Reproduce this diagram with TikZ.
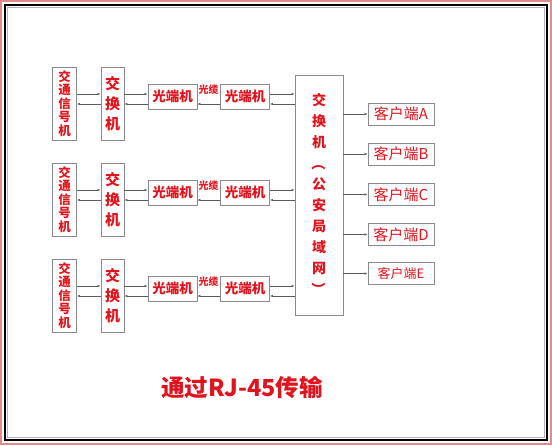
\documentclass[tikz,border=0pt]{standalone}
\usepackage{fontspec}
\usepackage{graphicx}
\newfontfamily\cjk{Noto Sans CJK SC}
\usetikzlibrary{arrows.meta}
\definecolor{txtred}{HTML}{E0141E}
\definecolor{boxgray}{HTML}{8A8A8A}
\definecolor{linegray}{HTML}{5A5A5A}
\definecolor{framepink}{HTML}{E08A8A}
\tikzset{
  box/.style={draw=boxgray, line width=0.8pt, fill=white, inner sep=0pt, text=txtred, font=\cjk\bfseries},
  sigbox/.style={box, minimum width=24pt, minimum height=73pt, align=center, font=\cjk\bfseries\fontsize{12.5}{13.6}\selectfont},
  swbox/.style={box, minimum width=23pt, minimum height=73pt, align=center, font=\cjk\bfseries\fontsize{15}{20}\selectfont},
  optbox/.style={box, minimum width=49pt, minimum height=25pt, font=\cjk\bfseries\fontsize{13.5}{14}\selectfont},
  clibox/.style={box, minimum width=66pt, minimum height=22pt, font=\cjk\fontsize{15}{16}\selectfont},
  conn/.style={draw=linegray, line width=0.7pt, -{Latex[length=3pt,width=2.4pt]}}
}
\begin{document}
\begin{tikzpicture}[x=1pt,y=-1pt]
\useasboundingbox (0,0) rectangle (552,445);
\fill[white] (0,0) rectangle (552,445);
\draw[framepink, line width=2pt] (1,1) rectangle (551,444);
\draw[black, line width=2pt] (5,5) rectangle (547,440);
\draw[black!30, line width=0.8pt] (7.5,7.5) rectangle (544.5,437.5);

% big switch
\node[box, minimum width=48pt, minimum height=240pt, align=center,
      font=\cjk\bfseries\fontsize{14}{21}\selectfont] (big) at (319,195)
  {交\\换\\机\\\rotatebox[origin=c]{-90}{（}\\公\\安\\局\\域\\网\\\rotatebox[origin=c]{-90}{）}};

% rows
\foreach \r/\t in {1/67,2/163,3/259}{
  \node[sigbox] (sig\r) at (64.5,\t+36.5) {交\\通\\信\\号\\机};
  \node[swbox] (sw\r) at (112.5,\t+36.5) {交\\换\\机};
  \node[optbox] (oa\r) at (172.5,\t+29.5) {光端机};
  \node[optbox] (ob\r) at (245,\t+29.5) {光端机};
  \coordinate (up\r) at (0,\t+27);
  \coordinate (lo\r) at (0,\t+37);
  \draw[conn] (sig\r.east |- up\r) -- (sw\r.west |- up\r);
  \draw[conn] (sw\r.west |- lo\r) -- (sig\r.east |- lo\r);
  \draw[conn] (sw\r.east |- up\r) -- (oa\r.west |- up\r);
  \draw[conn] (oa\r.west |- lo\r) -- (sw\r.east |- lo\r);
  \draw[conn] (ob\r.west |- lo\r) -- (oa\r.east |- lo\r);
  \node[text=txtred, font=\cjk\bfseries\fontsize{10}{10}\selectfont, inner sep=0pt] (lab\r) at (208.5,\t+22.5) {光缆};
  \draw[conn] (ob\r.east |- up\r) -- (big.west |- up\r);
  \draw[conn] (big.west |- lo\r) -- (ob\r.east |- lo\r);
}

% clients
\foreach \n/\y in {A/114,B/154,C/194.5,D/234.5}{
  \node[clibox, text=txtred] (c\n) at (401,\y) {客户端\n};
  \draw[conn] (big.east |- c\n) -- (c\n.west);
}
\node[clibox, text=txtred, font=\cjk\fontsize{13}{14}\selectfont] (cE) at (401,273.5) {客户端E};
\draw[conn] (big.east |- cE) -- (cE.west);

% title
\node[text=txtred, font=\cjk\bfseries\fontsize{23.5}{24}\selectfont, inner sep=0pt] (title) at (242,388) {通过RJ-45传输};
\end{tikzpicture}
\end{document}
